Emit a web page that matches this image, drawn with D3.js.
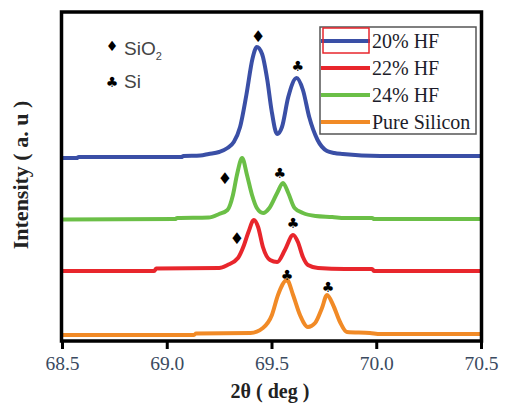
<!DOCTYPE html>
<html><head><meta charset="utf-8">
<script src="https://cdn.jsdelivr.net/npm/d3@7"></script>
<style>html,body{margin:0;padding:0;background:#fff;}svg{display:block;}</style>
</head><body>
<script>
// ---- data (2θ in degrees, intensity in arbitrary units) ----
const xTicks = [68.5, 69.0, 69.5, 70.0, 70.5];
const xTickLabels = ["68.5", "69.0", "69.5", "70.0", "70.5"];
const seriesNames = ["20% HF", "22% HF", "24% HF", "Pure Silicon"];

const hf20 = [[68.50,183],[68.57,183],[68.58,184],[69.07,184],[69.08,185],[69.16,185.5],[69.20,187],[69.25,189],[69.29,193],[69.32,199],[69.35,214],[69.38,246],[69.41,283],[69.43,294],[69.455,287],[69.48,261],[69.50,231],[69.527,207],[69.55,214],[69.58,244],[69.62,263],[69.65,251],[69.68,224],[69.72,201],[69.765,190],[69.80,188],[69.84,187],[70.02,185],[70.5,185]];
const hf22 = [[68.50,70],[68.94,70],[68.95,72.5],[69.25,73],[69.29,76],[69.34,83],[69.369,96],[69.39,109],[69.416,121],[69.436,114],[69.459,94],[69.493,81],[69.527,79],[69.564,91],[69.603,106],[69.626,99],[69.65,84],[69.674,76],[69.722,73],[69.85,72],[69.98,72],[69.99,70],[70.5,70]];
const hf24 = [[68.50,121.5],[69.04,122],[69.05,123],[69.20,123.5],[69.25,127],[69.29,131],[69.316,146],[69.335,166],[69.36,183],[69.383,166],[69.407,146],[69.43,133],[69.46,128],[69.49,133],[69.527,148],[69.555,158],[69.58,148],[69.61,133],[69.65,128],[69.71,125],[69.79,124],[69.85,123],[69.98,123],[69.99,122],[70.5,122]];
const pureSi = [[68.50,6],[69.13,6],[69.14,7.5],[69.40,8],[69.459,13],[69.502,26],[69.531,46],[69.574,61],[69.603,46],[69.636,26],[69.674,14],[69.708,18],[69.741,33],[69.765,46],[69.794,36],[69.827,19],[69.86,9],[69.97,8],[70.02,7],[70.5,7]];

// peak markers: [2θ, intensity, kind]
const peakMarks = [[69.436,305,"d"],[69.626,275,"c"],[69.278,163,"d"],[69.54,168,"c"],[69.335,103,"d"],[69.603,118,"c"],[69.574,66,"c"],[69.77,54,"c"]];

const colors = ["#3a4fa6", "#e8262c", "#6bbf47", "#f18a26"];
const allSeries = [hf20, hf22, hf24, pureSi];

// ---- layout ----
const W = 505, H = 405;
const svg = d3.select("body").append("svg").attr("width", W).attr("height", H);
const pL = 62, pR = 481, pT = 12, pB = 341;

const x = d3.scaleLinear().domain([68.5, 70.5]).range([pL, pR]);
const y = d3.scaleLinear().domain([0, 330]).range([pB, pB - 330]);

const line = d3.line().x(d => x(d[0])).y(d => y(d[1])).curve(d3.curveMonotoneX);

const plot = svg.append("g");
[3, 2, 1, 0].forEach(i => {
  plot.append("path").datum(allSeries[i])
    .attr("d", line).attr("fill", "none")
    .attr("stroke", colors[i]).attr("stroke-width", 4)
    .attr("stroke-linejoin", "round").attr("stroke-linecap", "butt");
});

// peak markers
plot.selectAll("text.mk").data(peakMarks).join("text")
  .attr("class", "mk")
  .attr("x", d => x(d[0])).attr("y", d => y(d[1]))
  .attr("text-anchor", "middle").attr("dominant-baseline", "central")
  .attr("font-family", "DejaVu Sans").attr("font-size", d => d[2] === "d" ? 16 : 14)
  .attr("fill", "#000")
  .text(d => d[2] === "d" ? "\u2666" : "\u2663");

// frame
svg.append("rect").attr("x", pL - 0.5).attr("y", pT).attr("width", pR - pL + 1).attr("height", pB - pT)
  .attr("fill", "none").attr("stroke", "#000").attr("stroke-width", 3.5);

// x axis ticks and labels
const xAxis = d3.axisBottom(x).tickValues(xTicks).tickFormat((d, i) => xTickLabels[i]).tickSize(8).tickPadding(7);
const ax = svg.append("g").attr("transform", `translate(0,${pB})`).call(xAxis);
ax.select(".domain").remove();
ax.selectAll(".tick line").attr("stroke", "#000").attr("stroke-width", 3);
ax.selectAll(".tick text").attr("font-family", "Liberation Serif").attr("font-size", 19.5).attr("fill", "#3a4a60");

// axis titles
svg.append("text").attr("x", 270).attr("y", 398).attr("text-anchor", "middle")
  .attr("font-family", "Liberation Serif").attr("font-weight", "bold").attr("font-size", 20).attr("fill", "#222")
  .text("2θ ( deg )");
svg.append("text").attr("transform", "translate(28,175) rotate(-90)").attr("text-anchor", "middle")
  .attr("font-family", "Liberation Serif").attr("font-weight", "bold").attr("font-size", 22).attr("fill", "#222")
  .text("Intensity ( a. u )");

// marker legend (top-left)
const ml = svg.append("g").attr("font-family", "Liberation Sans").attr("fill", "#444");
ml.append("text").attr("x", 112).attr("y", 46).attr("text-anchor", "middle").attr("dominant-baseline", "central")
  .attr("font-family", "DejaVu Sans").attr("font-size", 14).attr("fill", "#000").text("\u2666");
ml.append("text").attr("x", 112).attr("y", 82).attr("text-anchor", "middle").attr("dominant-baseline", "central")
  .attr("font-family", "DejaVu Sans").attr("font-size", 14).attr("fill", "#000").text("\u2663");
const t1 = ml.append("text").attr("x", 124).attr("y", 55).attr("font-size", 19);
t1.append("tspan").text("SiO");
t1.append("tspan").attr("font-size", 11).attr("dy", 5).text("2");
ml.append("text").attr("x", 124).attr("y", 88).attr("font-size", 19).text("Si");

// series legend
const lg = svg.append("g");
lg.append("rect").attr("x", 320).attr("y", 27).attr("width", 156).attr("height", 107)
  .attr("fill", "#fff").attr("stroke", "#555").attr("stroke-width", 1.5);
seriesNames.forEach((name, i) => {
  const yy = 41 + i * 27;
  lg.append("line").attr("x1", 321).attr("x2", 370).attr("y1", yy).attr("y2", yy)
    .attr("stroke", colors[i]).attr("stroke-width", 4);
  lg.append("text").attr("x", 372).attr("y", yy + 7).attr("font-family", "Liberation Serif")
    .attr("font-size", 20).attr("fill", "#1c1c2a").text(name);
});
lg.append("rect").attr("x", 323).attr("y", 28).attr("width", 46).attr("height", 25)
  .attr("fill", "none").attr("stroke", "#e8262c").attr("stroke-width", 1.5);
</script>
</body></html>
